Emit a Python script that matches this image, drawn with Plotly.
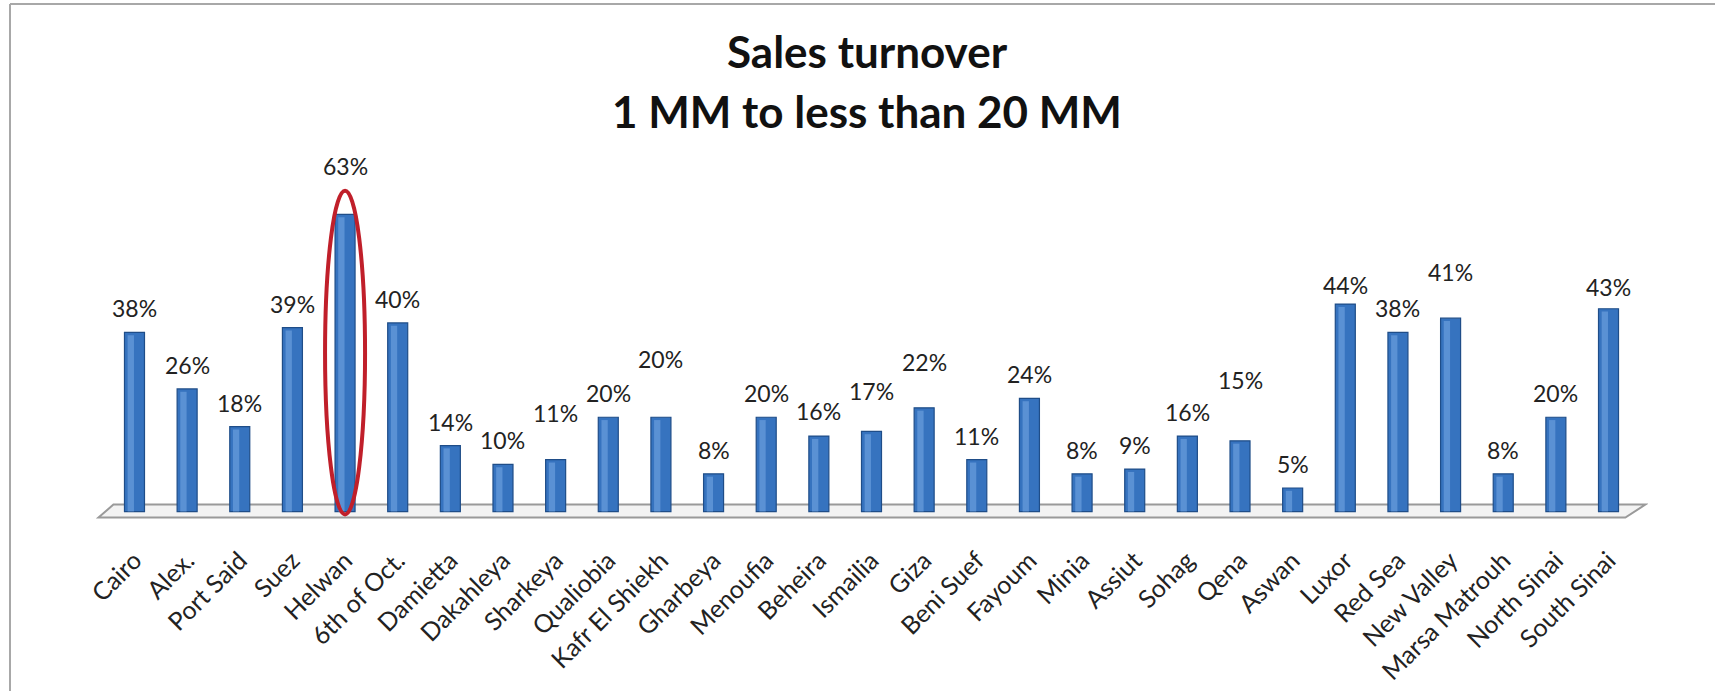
import plotly.graph_objects as go

# ---------------- data ----------------
governorates = ["Cairo", "Alex.", "Port Said", "Suez", "Helwan", "6th of Oct.", "Damietta",
                "Dakahleya", "Sharkeya", "Qualiobia", "Kafr El Shiekh", "Gharbeya", "Menoufia",
                "Beheira", "Ismailia", "Giza", "Beni Suef", "Fayoum", "Minia", "Assiut", "Sohag",
                "Qena", "Aswan", "Luxor", "Red Sea", "New Valley", "Marsa Matrouh",
                "North Sinai", "South Sinai"]
share_pct = [38, 26, 18, 39, 63, 40, 14, 10, 11, 20, 20, 8, 20, 16, 17, 22, 11, 24, 8, 9, 16,
             15, 5, 44, 38, 41, 8, 20, 43]
title_lines = ["Sales turnover", "1 MM to less than 20 MM"]
highlighted = "Helwan"

# extra lift (px) of individual value labels, as placed in the original
label_extra_lift = [0, 0, 0, 0, 24, 0, 0, 0, 23, 0, 34, 0, 0, 1, 16, 22, 0, 0, 0, 0, 0,
                    37, 0, -5, 0, 22, 0, 0, -2]

# ---------------- layout geometry ----------------
W, H = 1715, 691
ML, MR, MT, MB = 95, 67, 172, 170
X_RANGE = [-0.75, 28.75]
Y_RANGE = [-2, 72]
PW = W - ML - MR
PH = H - MT - MB

def px_x(px):
    return (px - ML) / PW

def px_y(py):
    return (H - MB - py) / PH

FONT = "Lato, 'Open Sans', sans-serif"
BLUE = "#3673bf"
BLUE_EDGE = "#1f4d88"
HILITE = "rgba(120,170,230,0.55)"

x_idx = list(range(len(governorates)))

fig = go.Figure()
fig.add_trace(go.Bar(
    x=x_idx, y=share_pct, width=0.38,
    marker=dict(color=BLUE, line=dict(color=BLUE_EDGE, width=1.2)),
    hoverinfo="skip", showlegend=False,
))
# subtle cylinder highlight
fig.add_trace(go.Bar(
    x=x_idx, y=[v - 0.6 for v in share_pct], width=0.12, offset=-0.13,
    marker=dict(color=HILITE, line=dict(width=0)),
    hoverinfo="skip", showlegend=False,
))

shapes = []
# 3D floor
shapes.append(dict(
    type="path", xref="x", yref="y",
    path="M -0.684,-1.27 L -0.40,1.48 L 28.70,1.48 L 28.32,-1.27 Z",
    fillcolor="#f3f3f3", line=dict(color="#9a9a9a", width=2), layer="below",
))
# chart border (top and left)
shapes.append(dict(type="line", xref="paper", yref="paper",
                   x0=px_x(10), x1=px_x(W + 5), y0=px_y(4), y1=px_y(4),
                   line=dict(color="#a8a8a8", width=2)))
shapes.append(dict(type="line", xref="paper", yref="paper",
                   x0=px_x(10), x1=px_x(10), y0=px_y(4), y1=px_y(H + 5),
                   line=dict(color="#a8a8a8", width=2)))
# red ellipse around highlighted bar
hi = governorates.index(highlighted)
shapes.append(dict(type="circle", xref="x", yref="y",
                   x0=hi - 0.38, x1=hi + 0.38, y0=-0.6, y1=share_pct[hi] + 5,
                   line=dict(color="#c01f2a", width=4), layer="above"))

annotations = []
for i, (v, extra) in enumerate(zip(share_pct, label_extra_lift)):
    annotations.append(dict(
        x=i, y=v, xref="x", yref="y", text=f"{v}%", showarrow=False,
        yanchor="middle", xanchor="center", yshift=24 + extra,
        font=dict(family=FONT, size=23, color="#222222"),
    ))
for line, py in zip(title_lines, [51, 111]):
    annotations.append(dict(
        x=px_x(867), y=px_y(py), xref="paper", yref="paper", text=f"<b>{line}</b>",
        showarrow=False, xanchor="center", yanchor="middle",
        font=dict(family=FONT, size=44, color="#111111"),
    ))

fig.update_layout(
    width=W, height=H,
    margin=dict(l=ML, r=MR, t=MT, b=MB, autoexpand=False),
    paper_bgcolor="white", plot_bgcolor="white",
    barmode="overlay",
    shapes=shapes, annotations=annotations,
    xaxis=dict(range=X_RANGE, tickmode="array", tickvals=x_idx, ticktext=governorates,
               tickangle=-45, showgrid=False, zeroline=False, showline=False, ticks="",
               ticklabelstandoff=19,
               tickfont=dict(family=FONT, size=25, color="#222222")),
    yaxis=dict(range=Y_RANGE, visible=False, showgrid=False, zeroline=False),
)

fig.write_html("out.html", config={"displayModeBar": False},
               post_script="document.body.style.margin='0';document.body.style.overflow='hidden';")
